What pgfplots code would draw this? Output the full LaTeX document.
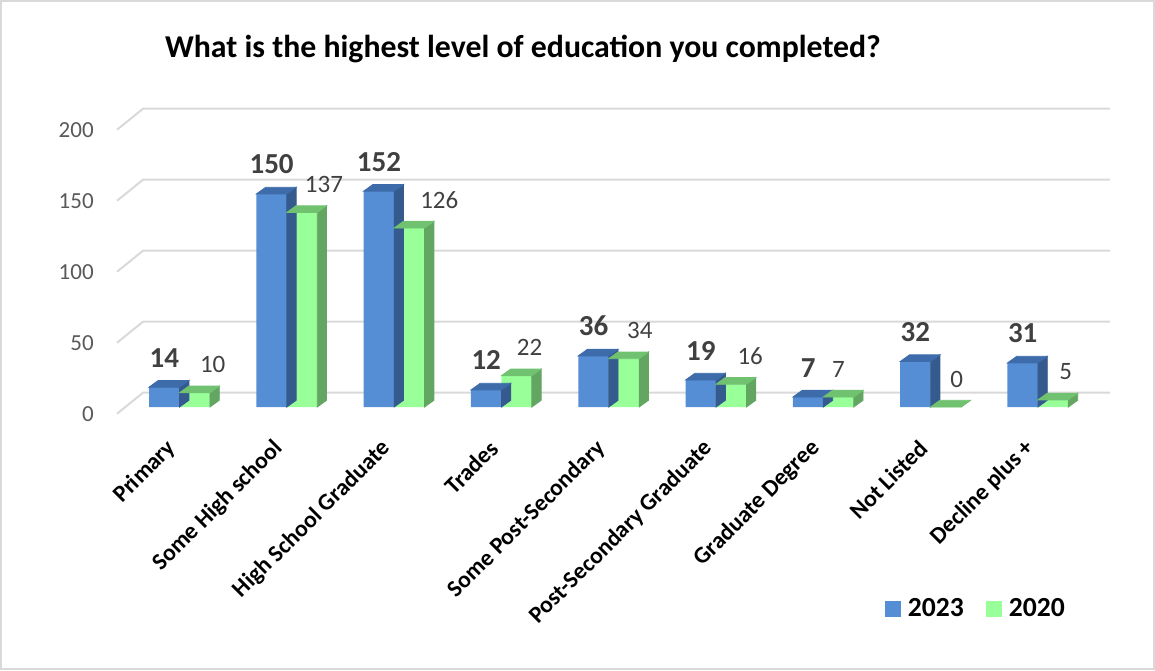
\documentclass[border=0pt]{standalone}
\usepackage{pgfplots}
\pgfplotsset{compat=1.18}
\usepackage{pgfplotstable}
\usepackage{fontspec}
\setmainfont{Carlito}

\definecolor{bluefront}{RGB}{85,142,213}
\definecolor{bluetop}{RGB}{62,108,170}
\definecolor{blueside}{RGB}{52,90,142}
\definecolor{greenfront}{RGB}{153,255,153}
\definecolor{greentop}{RGB}{112,194,112}
\definecolor{greenside}{RGB}{98,166,98}
\definecolor{gridc}{RGB}{217,217,217}
\definecolor{labc}{RGB}{64,64,64}
\definecolor{tickc}{RGB}{89,89,89}

% x  2023  2020  shift of the 2020 label (px)
\pgfplotstableread{
x y23 y20 dx
0 14 10 18
1 150 137 22
2 152 126 30
3 12 22 13
4 36 34 16
5 19 16 19
6 7 7 0
7 32 0 11
8 31 5 12.5
}\data

% top and side faces of a 3D bar, drawn at the top of the front face
\newcommand{\barfaces}[3]{%
  \pgfmathsetmacro\hh{\pgfplotspointmetatransformed*0.71}%
  \fill[#3] ({#1+7.625pt},0pt) -- ++(4.65pt,3.35pt) -- ++(0pt,-\hh pt)
    -- ({#1+7.625pt},-\hh pt) -- cycle;
  \fill[#2] ({#1-7.625pt},0pt) -- ({#1+7.625pt},0pt) -- ++(4.65pt,3.35pt)
    -- ({#1-7.625pt+4.65pt},3.35pt) -- cycle;
}

\begin{document}
\begin{tikzpicture}
\path[use as bounding box] (0,0) rectangle (577.5pt,335pt);
\draw[gridc, line width=1pt] (0.5pt,0.5pt) rectangle (577pt,334.5pt);
\node[anchor=base west, font=\bfseries\fontsize{15.9}{18}\selectfont]
  at (79pt,306pt) {What is the highest level of education you completed?};

\begin{axis}[
  at={(57.56pt,117.3pt)}, anchor=south west,
  x=53.65pt, y=0.71pt,
  xmin=-0.6, xmax=8.6, ymin=-20, ymax=215,
  clip=false,
  /pgf/number format/assume math mode=true,
  axis line style={draw=none},
  major tick length=0pt,
  xtick={0,...,8},
  xticklabels={Primary,Some High school,High School Graduate,Trades,Some Post-Secondary,Post-Secondary Graduate,Graduate Degree,Not Listed,Decline plus +},
  xticklabel style={xshift=-3.5pt, yshift=-4.5pt, rotate=45, anchor=east,
    inner sep=0pt, font=\bfseries\fontsize{11.8}{14}\selectfont},
  ytick={0,50,100,150,200},
  yticklabels={0,50,100,150,200},
  yticklabel style={anchor=east, inner sep=0pt, xshift=-10.5pt, yshift=-3.35pt,
    text=tickc, font=\fontsize{11.5}{13}\selectfont},
  legend style={draw=none, fill=none, inner sep=0pt, legend columns=2,
    at={(0.871,-0.52)}, anchor=center,
    font=\bfseries\fontsize{13.8}{15}\selectfont,
    nodes={inner sep=0pt},
    /tikz/every odd column/.append style={column sep=3.5pt},
    /tikz/every even column/.append style={column sep=11pt}},
]

\pgfplotsinvokeforeach{0,50,100,150,200}{
  \draw[gridc, line width=1pt] (axis cs:-0.582,{#1-4.72}) -- (axis cs:-0.340,{#1+10.07})
    -- (axis cs:8.672,{#1+10.07});
}

% 2023
\addplot[ybar, bar width=15.25pt, bar shift=-7.6pt, fill=bluefront, draw=none,
  legend image code/.code={\fill[bluefront] (0pt,-4pt) rectangle (8pt,4pt);},
  nodes near coords,
  nodes near coords style={anchor=base, yshift=10pt, xshift=-7.6pt, text=labc,
    font=\bfseries\fontsize{14.5}{16}\selectfont}]
  table[x=x, y=y23] {\data};
\addlegendentry{2023}
\addplot[forget plot, only marks, mark=*, mark size=0pt,
  mark options={draw=none, fill=none},
  scatter, point meta=\thisrow{y23}, point meta min=0, point meta max=1000,
  scatter/@pre marker code/.code={\barfaces{-7.6pt}{bluetop}{blueside}},
  scatter/@post marker code/.code={}]
  table[x=x, y=y23] {\data};

% 2020
\addplot[ybar, bar width=15.25pt, bar shift=7.6pt, fill=greenfront, draw=none,
  legend image code/.code={\fill[greenfront] (0pt,-4pt) rectangle (8pt,4pt);},
  visualization depends on={\thisrow{dx} \as \labdx},
  nodes near coords,
  nodes near coords style={anchor=base, yshift=10pt, xshift=7.6pt+0.5*\labdx pt,
    text=labc, font=\fontsize{12.5}{14}\selectfont}]
  table[x=x, y=y20] {\data};
\addlegendentry{2020}
\addplot[forget plot, only marks, mark=*, mark size=0pt,
  mark options={draw=none, fill=none},
  scatter, point meta=\thisrow{y20}, point meta min=0, point meta max=1000,
  scatter/@pre marker code/.code={\barfaces{7.6pt}{greentop}{greenside}},
  scatter/@post marker code/.code={}]
  table[x=x, y=y20] {\data};

\end{axis}
\end{tikzpicture}
\end{document}
